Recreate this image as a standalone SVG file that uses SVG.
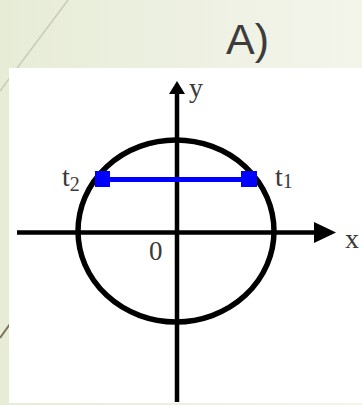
<svg xmlns="http://www.w3.org/2000/svg" width="362" height="405" viewBox="0 0 362 405">
  <defs>
    <linearGradient id="bg" x1="0" y1="0" x2="1" y2="0">
      <stop offset="0" stop-color="#e7ecd7"/>
      <stop offset="1" stop-color="#f3f5eb"/>
    </linearGradient>
    <style>
      .axis { stroke: #000; stroke-width: 4.5; fill: none; }
      .lbl { font-family: "Liberation Serif", "Times New Roman", serif; fill: #3a3a3a; }
      .sq { fill: #0000ff; }
    </style>
  </defs>
  <rect x="0" y="0" width="362" height="405" fill="url(#bg)"/>
  <line x1="68" y1="0" x2="0" y2="91" stroke="#c8ccb7" stroke-width="1.5"/>
  <line x1="0" y1="338" x2="20" y2="310" stroke="#7d7358" stroke-width="2"/>
  <text x="226" y="54" font-family="'Liberation Sans', Arial, sans-serif" font-size="43" fill="#3c3c3c">A)</text>
  <rect id="panel" x="9" y="68" width="353" height="335" fill="#ffffff"/>

  <g id="circle">
    <ellipse cx="176" cy="231" rx="98" ry="91" fill="none" stroke="#000" stroke-width="5.5"/>
  </g>

  <g id="connectors">
    <line class="axis" x1="17" y1="232.5" x2="318" y2="232.5"/>
    <polygon points="314,222 336,232.5 314,243" fill="#000"/>
    <line class="axis" x1="177" y1="402" x2="177" y2="90"/>
    <polygon points="169,94 177,81 185,94" fill="#000"/>
  </g>

  <g id="chord">
    <line x1="104" y1="179.5" x2="248" y2="179.5" stroke="#0000ff" stroke-width="5"/>
    <rect class="sq" x="95" y="171" width="15" height="16"/>
    <rect class="sq" x="241" y="171" width="16" height="16"/>
  </g>

  <g id="labels">
    <text class="lbl" x="189" y="97" font-size="28">y</text>
    <text class="lbl" x="345" y="248" font-size="28">x</text>
    <text class="lbl" x="149" y="260" font-size="27">0</text>
    <text class="lbl" x="62" y="186" font-size="28">t<tspan font-size="20" dy="5">2</tspan></text>
    <text class="lbl" x="275" y="186" font-size="28">t<tspan font-size="20" dy="2">1</tspan></text>
  </g>
</svg>
